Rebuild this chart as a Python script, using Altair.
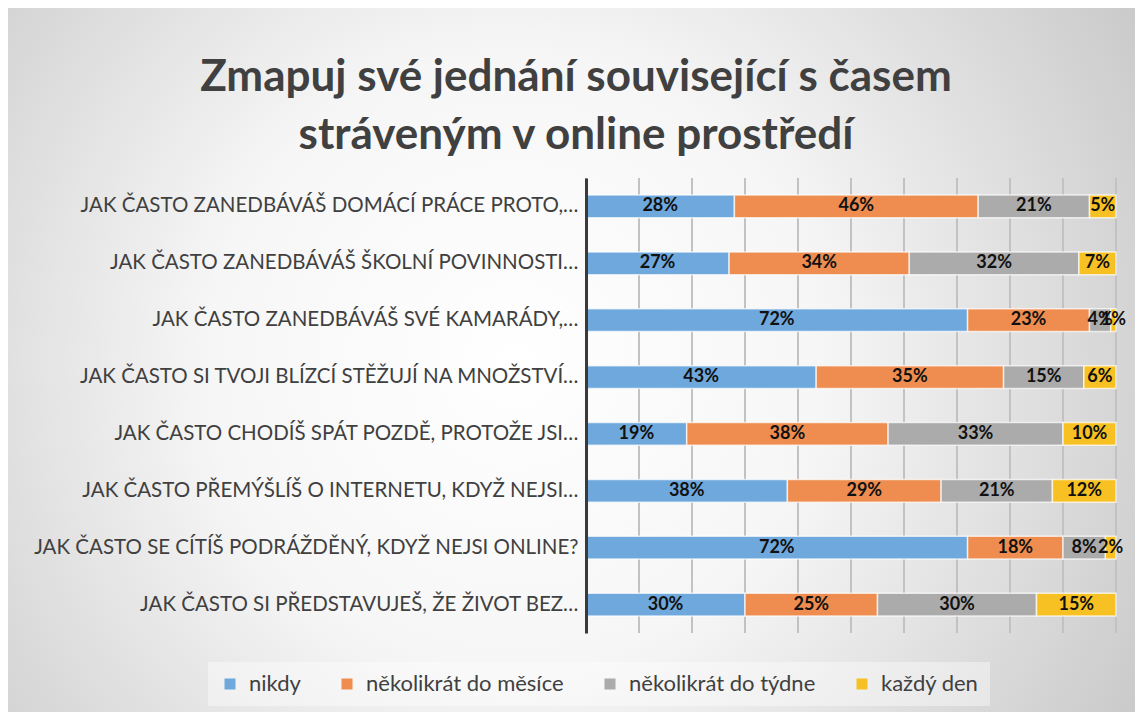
import altair as alt
import pandas as pd

QUESTIONS = [
    "JAK ČASTO ZANEDBÁVÁŠ DOMÁCÍ PRÁCE PROTO,…",
    "JAK ČASTO ZANEDBÁVÁŠ ŠKOLNÍ POVINNOSTI…",
    "JAK ČASTO ZANEDBÁVÁŠ SVÉ KAMARÁDY,…",
    "JAK ČASTO SI TVOJI BLÍZCÍ STĚŽUJÍ NA MNOŽSTVÍ…",
    "JAK ČASTO CHODÍŠ SPÁT POZDĚ, PROTOŽE JSI…",
    "JAK ČASTO PŘEMÝŠLÍŠ O INTERNETU, KDYŽ NEJSI…",
    "JAK ČASTO SE CÍTÍŠ PODRÁŽDĚNÝ, KDYŽ NEJSI ONLINE?",
    "JAK ČASTO SI PŘEDSTAVUJEŠ, ŽE ŽIVOT BEZ…",
]
SERIES = ["nikdy", "několikrát do měsíce", "několikrát do týdne", "každý den"]
NIKDY = [28, 27, 72, 43, 19, 38, 72, 30]
MESIC = [46, 34, 23, 35, 38, 29, 18, 25]
TYDEN = [21, 32, 4, 15, 33, 21, 8, 30]
DEN = [5, 7, 1, 6, 10, 12, 2, 15]
COLORS = ["#6FA8DC", "#EE8D4F", "#ABABAB", "#F8C123"]
GRID = [0.0, 0.1, 0.2, 0.3, 0.4, 0.5, 0.6, 0.7, 0.8, 0.9, 1.0]
TITLE = ["Zmapuj své jednání související s časem", "stráveným v online prostředí"]

rows = []
for i, q in enumerate(QUESTIONS):
    for j, (s, vals) in enumerate(zip(SERIES, [NIKDY, MESIC, TYDEN, DEN])):
        rows.append({"q": q, "s": s, "o": j, "v": vals[i]})
df = pd.DataFrame(rows)

W, H = 530, 455
PL, PT, PR, PB = 578, 170, 19, 79
FONT = "Lato"

xscale = alt.Scale(domain=[0, 1], nice=False, zero=False)
yenc = alt.Y(
    "q:N",
    sort=QUESTIONS,
    scale=alt.Scale(paddingInner=0.6, paddingOuter=0.3),
    axis=alt.Axis(
        title=None,
        ticks=False,
        labelFont=FONT,
        labelFontSize=20.5,
        labelColor="#404040",
        labelPadding=8,
        labelLimit=700,
        domainColor="#3a3a3a",
        domainWidth=3,
        grid=False,
        zindex=1,
    ),
)

bg = alt.Chart(pd.DataFrame({"a": [0]})).mark_rect(
    color=alt.RadialGradient(
        gradient="radial",
        stops=[
            alt.GradientStop(color="#ffffff", offset=0),
            alt.GradientStop(color="#f6f6f6", offset=0.35),
            alt.GradientStop(color="#b8b8b8", offset=1),
        ],
        x1=0.45, y1=0.5, r1=0, x2=0.45, y2=0.5, r2=0.78,
    )
).encode(
    x=alt.value(-PL), x2=alt.value(W + PR), y=alt.value(-PT), y2=alt.value(H + PB)
)

rules = alt.Chart(pd.DataFrame({"g": GRID})).mark_rule(
    color="#c2c2c2", strokeWidth=2
).encode(
    x=alt.X("g:Q", scale=xscale, axis=None), y=alt.value(0), y2=alt.value(H)
)

base = alt.Chart(df).transform_stack(
    stack="v", groupby=["q"], as_=["x0", "x1"], offset="normalize",
    sort=[alt.SortField("o", order="ascending")],
)

bars = base.mark_bar(stroke="#ffffff", strokeOpacity=0.7, strokeWidth=1.5).encode(
    x=alt.X("x0:Q", scale=xscale, axis=None),
    x2="x1:Q",
    y=yenc,
    color=alt.Color(
        "s:N",
        scale=alt.Scale(domain=SERIES, range=COLORS),
        legend=alt.Legend(
            title=None,
            orient="none",
            legendX=-378,
            legendY=484,
            direction="horizontal",
            symbolType="square",
            symbolSize=121,
            symbolStrokeWidth=0,
            labelFont=FONT,
            labelFontSize=22,
            labelColor="#404040",
            labelOffset=8,
            labelLimit=400,
            columnPadding=35,
            padding=11,
            fillColor="rgba(255,255,255,0.4)",
        ),
    ),
    order=alt.Order("o:Q"),
)

labels = base.transform_calculate(
    mid="(datum.x0 + datum.x1) / 2", lab="datum.v + '%'"
).mark_text(
    font=FONT, fontSize=18, fontWeight="bold", color="#111111", baseline="middle"
).encode(
    x=alt.X("mid:Q", scale=xscale, axis=None),
    y=alt.Y("q:N", sort=QUESTIONS),
    text="lab:N",
)

chart = alt.layer(bg, rules, bars, labels).properties(
    width=W,
    height=H,
    padding={"left": PL, "top": PT, "right": PR, "bottom": PB},
    autosize=alt.AutoSizeParams(type="none"),
    title=alt.TitleParams(
        text=TITLE,
        font=FONT,
        fontSize=44,
        fontWeight="bold",
        color="#404040",
        anchor="middle",
        frame="group",
        dx=-275,
        dy=PT,
        offset=20,
        lineHeight=58,
    ),
).configure_view(stroke=None)

chart.save("out.html", embed_options={"renderer": "svg", "actions": False})
